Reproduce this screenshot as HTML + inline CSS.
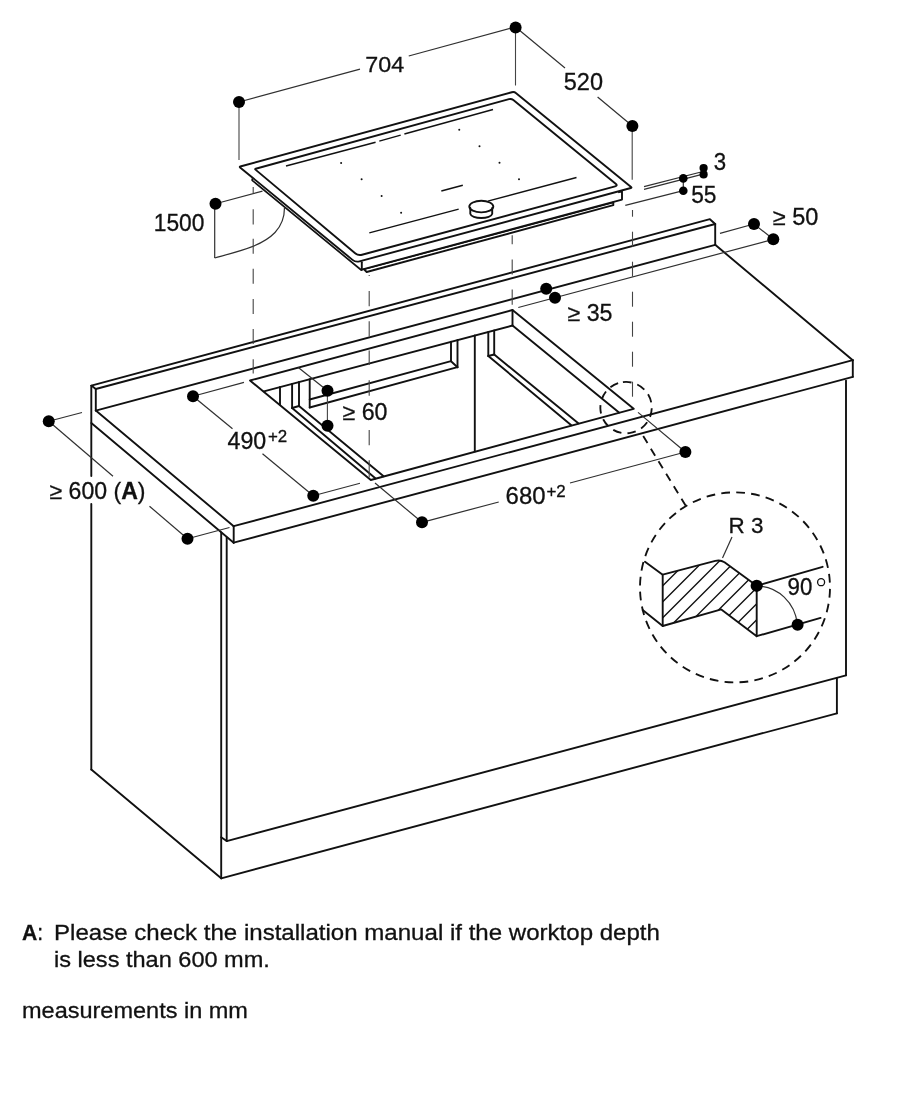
<!DOCTYPE html>
<html><head><meta charset="utf-8"><title>Installation diagram</title>
<style>
html,body{margin:0;padding:0;background:#fff;}
body{width:900px;height:1093px;overflow:hidden;position:relative;font-family:"Liberation Sans",sans-serif;color:#111;}
svg{position:absolute;left:0;top:0;will-change:transform;filter:grayscale(100%);}
svg text{font-family:"Liberation Sans",sans-serif;fill:#111;stroke:#111;stroke-width:0.3px;}
.k{stroke:#111;stroke-width:1.9;fill:none;stroke-linecap:round;stroke-linejoin:round;}
.k2{stroke:#111;stroke-width:1.3;fill:none;stroke-linecap:round;}
.m{stroke:#111;stroke-width:1.5;fill:none;}
.t{stroke:#303030;stroke-width:1.2;fill:none;}
.g{stroke:#444;stroke-width:1.1;fill:none;}
.d{fill:#000;stroke:none;}
.h{stroke:#111;stroke-width:1.35;fill:none;}
.dc{stroke:#111;stroke-width:1.85;fill:none;}
.dl{stroke:#111;stroke-width:1.85;fill:none;stroke-dasharray:8.2 6.5;}
.note{position:absolute;font-size:22.3px;line-height:27px;white-space:nowrap;}
</style></head><body>
<svg width="900" height="1093" viewBox="0 0 900 1093">
<path class="k" d="M240.07,167.44 Q239.30,166.80 240.26,166.54 L511.79,92.26 Q514.20,91.60 516.14,93.18 L631.07,186.94 Q632.00,187.70 630.84,188.01 L359.46,261.36 Q355.60,262.40 352.51,259.86 Z"/>
<path class="k" d="M255.47,169.64 Q254.70,169.00 255.66,168.74 L508.99,99.16 Q511.40,98.50 513.34,100.08 L615.68,183.70 Q618.00,185.60 615.10,186.38 L362.06,254.76 Q358.20,255.80 355.14,253.23 Z"/>
<path d="M252.2,179.0 L252.2,180.4 L361.2,270.0" fill="none" stroke="#111" stroke-width="1.7" stroke-linejoin="round" stroke-linecap="round"/>
<line class="k" x1="361.80" y1="262.30" x2="361.80" y2="269.70"/>
<path class="k" d="M361.80,269.70 L622.00,199.60 L622.00,191.40 L619.00,192.20"/>
<line class="k2" x1="364.00" y1="269.30" x2="613.30" y2="202.60"/>
<path class="k" d="M364.00,269.30 L366.70,272.00 L613.30,205.20 L613.30,202.30"/>
<line class="m" x1="286.00" y1="166.00" x2="375.60" y2="142.20"/>
<line class="m" x1="379.30" y1="141.10" x2="400.70" y2="135.10"/>
<line class="m" x1="404.40" y1="134.00" x2="493.00" y2="109.50"/>
<circle cx="341.1" cy="162.9" r="1" fill="#111"/>
<circle cx="361.6" cy="179.3" r="1" fill="#111"/>
<circle cx="381.6" cy="196" r="1" fill="#111"/>
<circle cx="401.1" cy="212.7" r="1" fill="#111"/>
<circle cx="459.25" cy="129.75" r="1" fill="#111"/>
<circle cx="479.5" cy="146.25" r="1" fill="#111"/>
<circle cx="499.5" cy="162.75" r="1" fill="#111"/>
<circle cx="519" cy="179.25" r="1" fill="#111"/>
<line class="m" x1="369.30" y1="232.90" x2="458.70" y2="209.10"/>
<line class="m" x1="441.30" y1="190.90" x2="462.80" y2="185.30"/>
<line class="m" x1="487.80" y1="201.10" x2="576.50" y2="177.50"/>
<path fill="#fff" stroke="none" d="M470.3,208 L470.3,213.9 A11,4.6 0 0 0 492.2,213.9 L492.2,208 Z"/>
<path class="k" d="M470.3,208 L470.3,213.9 A11,4.6 0 0 0 492.2,213.9 L492.2,208"/>
<ellipse class="k" fill="#fff" cx="481.3" cy="206.6" rx="12" ry="5.8"/>
<line class="g" x1="239.00" y1="102.00" x2="239.00" y2="160.00"/>
<line class="g" x1="515.50" y1="27.00" x2="515.50" y2="85.50"/>
<line class="g" x1="632.20" y1="126.00" x2="632.20" y2="179.70"/>
<line class="t" x1="239.00" y1="102.00" x2="360.00" y2="69.20"/>
<line class="t" x1="408.75" y1="56.00" x2="515.50" y2="27.00"/>
<line class="t" x1="515.50" y1="27.00" x2="565.00" y2="68.00"/>
<line class="t" x1="597.60" y1="97.00" x2="632.40" y2="126.00"/>
<circle class="d" cx="239.00" cy="102.10" r="6"/>
<circle class="d" cx="515.60" cy="27.40" r="6"/>
<circle class="d" cx="632.40" cy="126.00" r="6"/>
<text transform="translate(365.30,71.70) scale(1.0130,1)" font-size="23">704</text>
<text transform="translate(563.75,90.00) scale(1.0221,1)" font-size="23">520</text>
<line class="t" x1="215.50" y1="203.75" x2="262.50" y2="191.20"/>
<line class="t" x1="214.70" y1="203.75" x2="214.70" y2="258.00"/>
<path class="t" d="M214.7,258 C240,251 262,246 275,232.5 C283,224 284.5,216 284.5,207.5"/>
<circle class="d" cx="215.50" cy="203.75" r="6"/>
<text transform="translate(153.75,230.50) scale(0.9912,1)" font-size="23">1500</text>
<line class="t" x1="644.00" y1="186.70" x2="703.00" y2="171.50"/>
<line class="t" x1="644.00" y1="189.40" x2="703.00" y2="174.20"/>
<line class="t" x1="625.30" y1="205.30" x2="683.30" y2="190.70"/>
<line class="t" x1="683.30" y1="178.40" x2="683.30" y2="190.70"/>
<circle class="d" cx="703.60" cy="168.00" r="4.1"/>
<circle class="d" cx="703.60" cy="174.40" r="4.1"/>
<circle class="d" cx="683.30" cy="178.40" r="4.3"/>
<circle class="d" cx="683.30" cy="190.70" r="4.3"/>
<text transform="translate(713.80,170.30) scale(0.9688,1)" font-size="23">3</text>
<text transform="translate(691.20,203.10) scale(0.9883,1)" font-size="23">55</text>
<path class="k" d="M95.80,389.00 L91.30,385.60 L709.90,219.20 L715.20,224.00"/>
<line class="k" x1="95.80" y1="389.00" x2="715.20" y2="224.00"/>
<line class="k" x1="95.80" y1="389.00" x2="95.80" y2="410.60"/>
<line class="k" x1="715.20" y1="224.00" x2="715.20" y2="244.80"/>
<line class="k" x1="95.80" y1="410.60" x2="715.20" y2="244.80"/>
<line class="k" x1="95.80" y1="410.60" x2="233.70" y2="526.20"/>
<line class="k" x1="715.20" y1="244.80" x2="852.80" y2="360.20"/>
<line class="k" x1="233.70" y1="526.20" x2="852.80" y2="360.20"/>
<line class="k" x1="233.70" y1="542.70" x2="852.80" y2="376.80"/>
<line class="k" x1="233.70" y1="526.20" x2="233.70" y2="542.70"/>
<line class="k" x1="852.80" y1="360.20" x2="852.80" y2="376.80"/>
<line class="k" x1="91.30" y1="423.00" x2="233.70" y2="542.70"/>
<line class="k" x1="91.30" y1="385.60" x2="91.30" y2="476.00"/>
<line class="k" x1="91.30" y1="504.00" x2="91.30" y2="769.60"/>
<line class="k" x1="91.30" y1="769.60" x2="221.20" y2="878.30"/>
<line class="k" x1="221.20" y1="532.40" x2="221.20" y2="878.30"/>
<line class="k" x1="226.70" y1="537.60" x2="226.70" y2="841.10"/>
<line class="k" x1="221.20" y1="837.20" x2="226.70" y2="841.10"/>
<line class="k" x1="226.70" y1="841.10" x2="846.00" y2="675.30"/>
<line class="k" x1="846.00" y1="380.60" x2="846.00" y2="675.30"/>
<line class="k" x1="221.20" y1="878.30" x2="836.90" y2="713.30"/>
<line class="k" x1="836.90" y1="678.00" x2="836.90" y2="713.30"/>
<path class="k" d="M250.00,380.50 L512.50,310.00 L633.70,408.80 L370.80,480.00 Z"/>
<line class="k" x1="263.90" y1="391.30" x2="512.50" y2="325.50"/>
<line class="k" x1="512.50" y1="310.00" x2="512.50" y2="325.50"/>
<line class="k" x1="512.50" y1="325.50" x2="619.00" y2="412.60"/>
<line class="k" x1="280.00" y1="387.04" x2="280.00" y2="404.60"/>
<line class="k" x1="292.10" y1="383.84" x2="292.10" y2="408.00"/>
<line class="k" x1="299.00" y1="382.01" x2="299.00" y2="406.00"/>
<line class="k" x1="292.10" y1="408.00" x2="299.00" y2="406.00"/>
<line class="k" x1="292.10" y1="408.00" x2="375.60" y2="478.40"/>
<line class="k" x1="299.00" y1="406.00" x2="383.60" y2="476.20"/>
<line class="k" x1="309.70" y1="379.18" x2="309.70" y2="407.50"/>
<line class="k" x1="309.70" y1="399.50" x2="451.00" y2="361.20"/>
<line class="k" x1="309.70" y1="407.50" x2="457.50" y2="367.20"/>
<line class="k" x1="451.00" y1="341.77" x2="451.00" y2="361.20"/>
<line class="k" x1="457.50" y1="340.05" x2="457.50" y2="367.20"/>
<line class="k" x1="451.00" y1="361.20" x2="457.50" y2="367.20"/>
<line class="k" x1="474.80" y1="335.47" x2="474.80" y2="451.40"/>
<line class="k" x1="488.30" y1="331.90" x2="488.30" y2="356.00"/>
<line class="k" x1="494.20" y1="330.34" x2="494.20" y2="354.50"/>
<line class="k" x1="488.30" y1="356.00" x2="494.20" y2="354.50"/>
<line class="k" x1="488.30" y1="356.00" x2="571.30" y2="425.20"/>
<line class="k" x1="494.20" y1="354.50" x2="578.30" y2="423.30"/>
<line class="t" x1="773.30" y1="239.30" x2="518.30" y2="307.50"/>
<line class="t" x1="754.00" y1="224.00" x2="720.00" y2="233.30"/>
<line class="t" x1="754.00" y1="224.00" x2="773.30" y2="239.30"/>
<circle class="d" cx="754.00" cy="224.00" r="6"/>
<circle class="d" cx="773.30" cy="239.30" r="6"/>
<text transform="translate(772.70,225.00) scale(1.0224,1)" font-size="23">≥ 50</text>
<circle class="d" cx="546.20" cy="288.80" r="6"/>
<circle class="d" cx="555.00" cy="297.80" r="6"/>
<text transform="translate(567.50,320.80) scale(1.0090,1)" font-size="23">≥ 35</text>
<line class="t" x1="327.50" y1="390.75" x2="298.30" y2="367.50"/>
<line class="g" x1="327.40" y1="390.75" x2="327.40" y2="425.75"/>
<circle class="d" cx="327.50" cy="390.75" r="6"/>
<circle class="d" cx="327.50" cy="425.75" r="6"/>
<text transform="translate(342.50,419.50) scale(1.0090,1)" font-size="23">≥ 60</text>
<line class="t" x1="193.00" y1="396.25" x2="244.00" y2="382.40"/>
<line class="t" x1="193.00" y1="396.25" x2="232.50" y2="428.75"/>
<line class="t" x1="262.50" y1="453.75" x2="313.25" y2="495.75"/>
<line class="t" x1="313.25" y1="495.75" x2="360.00" y2="483.25"/>
<circle class="d" cx="193.00" cy="396.25" r="6"/>
<circle class="d" cx="313.25" cy="495.75" r="6"/>
<text transform="translate(227.50,448.75) scale(1.0091,1)" font-size="23">490</text>
<text transform="translate(267.90,441.90) scale(1.0376,1)" font-size="16.3">+2</text>
<line class="t" x1="422.00" y1="522.30" x2="375.00" y2="483.00"/>
<line class="t" x1="422.00" y1="522.30" x2="498.75" y2="502.00"/>
<line class="t" x1="570.00" y1="483.00" x2="685.40" y2="452.00"/>
<line class="t" x1="685.40" y1="452.00" x2="638.00" y2="412.40"/>
<circle class="d" cx="422.00" cy="522.30" r="6"/>
<circle class="d" cx="685.40" cy="452.00" r="6"/>
<text transform="translate(505.60,503.90) scale(1.0417,1)" font-size="23">680</text>
<text transform="translate(546.40,497.00) scale(1.0376,1)" font-size="16.3">+2</text>
<line class="t" x1="48.75" y1="421.25" x2="82.00" y2="412.50"/>
<line class="t" x1="48.75" y1="421.25" x2="113.00" y2="476.25"/>
<line class="t" x1="149.50" y1="506.25" x2="187.50" y2="538.75"/>
<line class="t" x1="187.50" y1="538.75" x2="229.50" y2="527.50"/>
<circle class="d" cx="48.75" cy="421.25" r="6"/>
<circle class="d" cx="187.50" cy="538.75" r="6"/>
<text transform="translate(49.50,498.90) scale(1.0037,1)" font-size="23">≥ 600 (<tspan font-weight="bold">A</tspan>)</text>
<line class="g" x1="253.20" y1="187.10" x2="253.20" y2="193.20"/>
<line class="g" x1="253.20" y1="209.30" x2="253.20" y2="224.40"/>
<line class="g" x1="253.20" y1="238.70" x2="253.20" y2="253.70"/>
<line class="g" x1="253.20" y1="268.70" x2="253.20" y2="283.80"/>
<line class="g" x1="253.20" y1="298.90" x2="253.20" y2="314.00"/>
<line class="g" x1="253.20" y1="329.00" x2="253.20" y2="344.10"/>
<line class="g" x1="253.20" y1="359.20" x2="253.20" y2="373.50"/>
<line class="g" x1="369.20" y1="275.00" x2="369.20" y2="276.00"/>
<line class="g" x1="369.20" y1="291.10" x2="369.20" y2="306.20"/>
<line class="g" x1="369.20" y1="321.30" x2="369.20" y2="336.40"/>
<line class="g" x1="369.20" y1="350.50" x2="369.20" y2="365.00"/>
<line class="g" x1="369.20" y1="380.30" x2="369.20" y2="395.80"/>
<line class="g" x1="369.20" y1="430.00" x2="369.20" y2="445.20"/>
<line class="g" x1="369.20" y1="460.30" x2="369.20" y2="477.40"/>
<line class="g" x1="512.20" y1="235.20" x2="512.20" y2="244.30"/>
<line class="g" x1="512.20" y1="259.40" x2="512.20" y2="274.50"/>
<line class="g" x1="512.20" y1="289.60" x2="512.20" y2="304.70"/>
<line class="g" x1="632.50" y1="210.00" x2="632.50" y2="216.70"/>
<line class="g" x1="632.50" y1="231.70" x2="632.50" y2="246.70"/>
<line class="g" x1="632.50" y1="261.70" x2="632.50" y2="276.70"/>
<line class="g" x1="632.50" y1="291.70" x2="632.50" y2="306.70"/>
<line class="g" x1="632.50" y1="321.70" x2="632.50" y2="336.70"/>
<line class="g" x1="632.50" y1="351.70" x2="632.50" y2="366.70"/>
<line class="g" x1="632.50" y1="381.70" x2="632.50" y2="396.70"/>
<circle class="dc" cx="626.05" cy="407.6" r="25.7" stroke-dasharray="8.6 6.080" transform="rotate(263 626.05 407.6)"/>
<circle class="dc" cx="735" cy="587.4" r="95" stroke-dasharray="8.7 6.223" transform="rotate(234.7 735 587.4)"/>
<line class="dl" x1="643.2" y1="436.1" x2="686.2" y2="506.6"/>
<defs><clipPath id="hc"><path d="M662.7,574.7 L715.3,560.9 Q720.3,559.6 724.5,562.2 L756.7,585.8 L756.7,636.2 L721.3,609.4 L662.7,626 Z"/></clipPath></defs>
<path clip-path="url(#hc)" class="h" d="M532.5,700 L732.5,500 M548.5,700 L748.5,500 M564.5,700 L764.5,500 M580.5,700 L780.5,500 M596.5,700 L796.5,500 M612.5,700 L812.5,500 M628.5,700 L828.5,500 M644.5,700 L844.5,500 M660.5,700 L860.5,500 M676.5,700 L876.5,500 M692.5,700 L892.5,500"/>
<path class="k" d="M662.7,574.7 L715.3,560.9 Q720.3,559.6 724.5,562.2 L756.7,585.8 L756.7,636.2 L721.3,609.4 L662.7,626 Z"/>
<line class="k" x1="662.70" y1="574.70" x2="645.00" y2="561.80"/>
<line class="k" x1="662.70" y1="626.00" x2="642.70" y2="610.00"/>
<line class="k" x1="756.70" y1="585.80" x2="822.60" y2="566.80"/>
<line class="k" x1="756.70" y1="636.20" x2="820.60" y2="617.90"/>
<path class="t" d="M757,586 C778,586 795,603 797.4,624"/>
<circle class="d" cx="756.70" cy="585.80" r="6.1"/>
<circle class="d" cx="797.60" cy="624.70" r="6"/>
<text transform="translate(728.60,532.60) scale(0.9777,1)" font-size="23">R 3</text>
<line class="t" x1="732.00" y1="537.00" x2="722.50" y2="558.00"/>
<text transform="translate(787.50,595.40) scale(0.9687,1)" font-size="23">90</text>
<circle cx="821.1" cy="582.2" r="3.5" fill="none" stroke="#111" stroke-width="1.3"/>
<text transform="translate(22.00,940.00) scale(0.9479,1)" font-size="22.3"><tspan font-weight="bold">A</tspan>:</text>
<text transform="translate(54.00,940.00) scale(1.0800,1)" font-size="22.3">Please check the installation manual if the worktop depth</text>
<text transform="translate(54.00,967.00) scale(1.0562,1)" font-size="22.3">is less than 600 mm.</text>
<text transform="translate(22.00,1018.00) scale(1.0541,1)" font-size="22.3">measurements in mm</text>
</svg>
</body></html>
